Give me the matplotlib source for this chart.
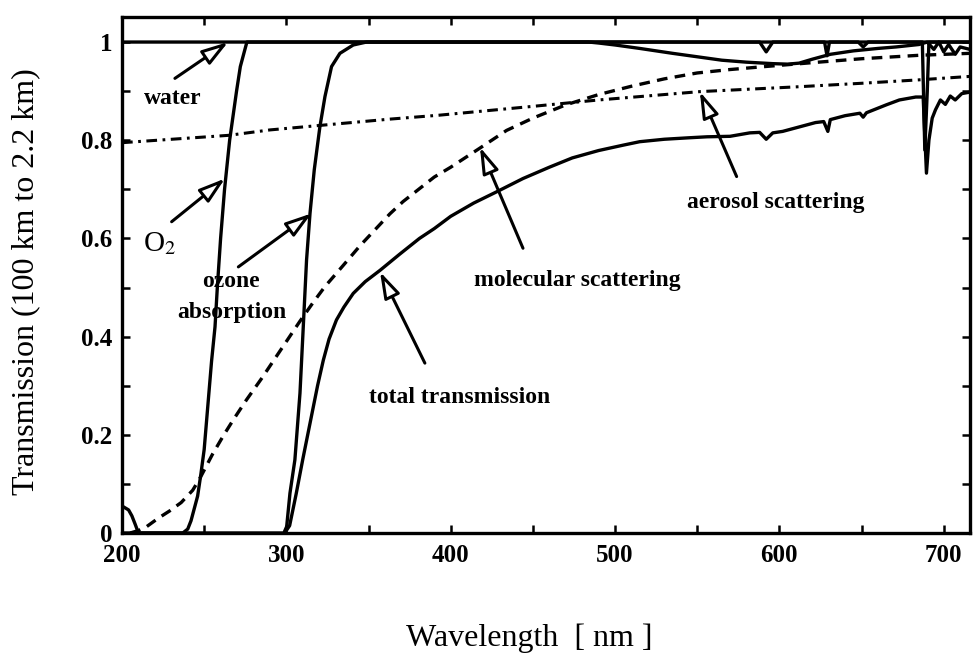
import numpy as np
import matplotlib
matplotlib.use('Agg')
import matplotlib.pyplot as plt
from matplotlib.ticker import MultipleLocator, FixedLocator, FixedFormatter

plt.rcParams['font.family'] = ['Liberation Serif', 'DejaVu Serif']
plt.rcParams['mathtext.fontset'] = 'stix'

# Transmission curves (wavelength in nm)
water_wl = [200, 484, 490, 500, 515, 535, 550, 565, 580, 596, 605, 612, 620, 631,
            645, 660, 671, 685, 690, 694, 697, 700, 703, 707, 710, 716]
water_tr = [1.0, 1.0, 0.998, 0.994, 0.987, 0.977, 0.970, 0.963, 0.959, 0.956, 0.955,
            0.957, 0.965, 0.975, 0.982, 0.987, 0.990, 0.995, 1.0, 0.985, 1.0, 0.98,
            0.995, 0.975, 0.99, 0.985]

o2_wl = [200, 237, 240, 242, 244, 246, 248, 250, 252, 254.5, 256.6, 258, 260, 262.4,
         265.5, 269.7, 272, 276, 588, 592, 596, 627.5, 629, 630.5, 648, 651, 654,
         687, 688.5, 690, 691, 716]
o2_tr = [0.0, 0.0, 0.008, 0.025, 0.05, 0.075, 0.12, 0.17, 0.25, 0.35, 0.42, 0.5, 0.6,
         0.7, 0.8, 0.9, 0.95, 1.0, 1.0, 0.98, 1.0, 1.0, 0.972, 1.0, 1.0, 0.99, 1.0,
         1.0, 0.78, 0.9, 1.0, 1.0]

ozone_wl = [201.5, 204, 206, 208, 210, 298.5, 300.2, 302.2, 305.2, 308.3, 310.3, 312.3,
            314.4, 317, 320.4, 323.5, 327.5, 332.6, 340.7, 348.8, 716]
ozone_tr = [0.052, 0.047, 0.035, 0.018, 0.0, 0.0, 0.013, 0.081, 0.149, 0.285, 0.42,
            0.556, 0.651, 0.74, 0.827, 0.889, 0.95, 0.977, 0.994, 1.0, 1.0]

molec_wl = [205, 210, 215, 222, 229, 236, 243, 247.5, 255, 262, 268, 275.7, 285, 292,
            302, 308, 316.4, 323.5, 334.6, 344.8, 363, 371, 390, 400, 417.8, 434, 450,
            470, 490, 510, 530, 550, 570, 591, 620, 650, 685, 716]
molec_tr = [0.0, 0.005, 0.013, 0.03, 0.045, 0.062, 0.087, 0.112, 0.16, 0.2, 0.232, 0.271,
            0.315, 0.35, 0.4, 0.43, 0.47, 0.502, 0.545, 0.585, 0.65, 0.675, 0.725, 0.745,
            0.784, 0.82, 0.845, 0.872, 0.893, 0.91, 0.925, 0.937, 0.944, 0.95, 0.958,
            0.966, 0.973, 0.977]

aero_wl = [200, 265, 290, 363, 393, 450, 490, 551.6, 612, 650, 685, 716]
aero_tr = [0.795, 0.81, 0.821, 0.843, 0.851, 0.869, 0.882, 0.899, 0.909, 0.916, 0.923, 0.93]

total_wl = [299, 302, 306, 310, 313, 316, 319, 322.5, 326, 330.5, 335, 340.7, 348, 357,
            369, 381, 390, 400, 414, 428, 444, 460, 474, 490, 505, 515, 530, 545, 556,
            570, 582, 588, 592, 596, 602, 612, 622, 627, 629.5, 631, 640, 649, 651, 653,
            665, 673, 683, 687.5, 689.5, 691, 693, 695, 698, 701, 704, 707, 711, 716]
total_tr = [0.0, 0.015, 0.08, 0.15, 0.2, 0.25, 0.3, 0.352, 0.395, 0.434, 0.46, 0.488,
            0.512, 0.535, 0.568, 0.6, 0.62, 0.645, 0.672, 0.695, 0.722, 0.745, 0.764,
            0.779, 0.79, 0.797, 0.802, 0.805, 0.807, 0.808, 0.815, 0.816, 0.802, 0.815,
            0.818, 0.827, 0.836, 0.838, 0.818, 0.842, 0.85, 0.855, 0.847, 0.856, 0.872,
            0.882, 0.888, 0.888, 0.733, 0.8, 0.845, 0.862, 0.882, 0.873, 0.89, 0.882,
            0.895, 0.898]

fig = plt.figure(figsize=(9.74, 6.54), dpi=100)
ax = fig.add_axes([122 / 974, 1 - 533 / 654, 848 / 974, 516 / 654])

lw = 2.4
ax.plot(water_wl, water_tr, color='black', lw=lw)
ax.plot(o2_wl, o2_tr, color='black', lw=lw)
ax.plot(ozone_wl, ozone_tr, color='black', lw=lw)
ax.plot(total_wl, total_tr, color='black', lw=lw)
ax.plot(molec_wl, molec_tr, color='black', lw=lw, linestyle=(0, (3.2, 2.2)))
ax.plot(aero_wl, aero_tr, color='black', lw=2.2, linestyle=(0, (3.5, 1.8, 0.9, 1.8)))

ax.set_xlim(200, 716)
ax.set_ylim(0, 1.051)

ax.xaxis.set_major_locator(MultipleLocator(100))
ax.xaxis.set_minor_locator(MultipleLocator(50))
ax.yaxis.set_major_locator(FixedLocator([0, 0.2, 0.4, 0.6, 0.8, 1.0]))
ax.yaxis.set_major_formatter(FixedFormatter(['0', '0.2', '0.4', '0.6', '0.8', '1']))
ax.yaxis.set_minor_locator(MultipleLocator(0.1))

ax.tick_params(which='both', direction='in', top=True, right=True,
               length=6, width=1.8)
ax.tick_params(axis='x', which='major', pad=8)
ax.tick_params(axis='y', which='major', pad=7)
for lab in ax.get_xticklabels() + ax.get_yticklabels():
    lab.set_fontsize(18)
    lab.set_fontweight('bold')
for sp in ax.spines.values():
    sp.set_linewidth(2.4)

fig.text(529 / 974, 1 - 638 / 654, 'Wavelength  [ nm ]', fontsize=23,
         ha='center', va='center')
fig.text(26 / 974, 1 - 282 / 654, 'Transmission (100 km to 2.2 km)', fontsize=23,
         rotation=90, ha='center', va='center')

# labels with open-headed arrows: (text, text pos, arrow tail, arrow tip)
notes = [
    ('water', (231, 0.885), (232.2, 0.926), (264.6, 1.0)),
    ('O$_2$', (223.1, 0.59), (230.2, 0.634), (262.7, 0.722)),
    ('ozone', (266, 0.512), (270.8, 0.542), (315.4, 0.651)),
    ('molecular scattering', (477, 0.515), (444, 0.58), (417.8, 0.786)),
    ('aerosol scattering', (598.1, 0.674), (574, 0.726), (551.6, 0.899)),
    ('total transmission', (405.6, 0.277), (384.3, 0.346), (357, 0.532)),
]
for txt, tpos, tail, tip in notes:
    weight = 'normal' if txt.startswith('O') else 'bold'
    size = 21 if txt.startswith('O') else 17
    ax.text(tpos[0], tpos[1], txt, fontsize=size, fontweight=weight,
            ha='center', va='center')
    ax.annotate('', xy=tip, xytext=tail,
                arrowprops=dict(arrowstyle='-|>,head_length=0.8,head_width=0.25',
                                fc='white', ec='black', lw=2.2,
                                shrinkA=0, shrinkB=0, mutation_scale=20))
ax.text(266.6, 0.449, 'absorption', fontsize=17, fontweight='bold',
        ha='center', va='center')

plt.savefig('out.png', dpi=100)
